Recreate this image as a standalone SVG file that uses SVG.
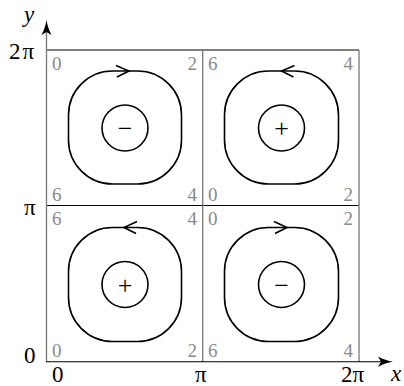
<svg xmlns="http://www.w3.org/2000/svg" width="404" height="386" viewBox="0 0 404 386">
<style>
.vl{stroke:#777;stroke-width:1.3;fill:none}
.hl{stroke:#000;stroke-width:1.1;fill:none}
.loop{stroke:#000;stroke-width:1.6;fill:none}
.chev{stroke:#000;stroke-width:1.6;fill:none;stroke-linejoin:miter}
.num{font-family:"Liberation Serif",serif;font-size:19px;fill:#8a8a8a}
.lab{font-family:"Liberation Serif",serif;font-size:23px;fill:#000}
.it{font-style:italic}
.sign{font-family:"Liberation Serif",serif;font-size:26px;fill:#000;text-anchor:middle}
</style>
<rect width="404" height="386" fill="#fff"/>
<g id="grid">
<line class="hl" x1="46.5" y1="50" x2="359" y2="50"/>
<line class="hl" x1="46.5" y1="205.5" x2="359" y2="205.5"/>
<line class="vl" x1="202.7" y1="50" x2="202.7" y2="362"/>
<line class="vl" x1="359" y1="50" x2="359" y2="362"/>
</g>
<g id="axes">
<line class="vl" x1="46.5" y1="362" x2="46.5" y2="30"/>
<path d="M46.5,20 C47.3,25 48.8,30 51.5,35 L46.5,32 L41.5,35 C44.2,30 45.7,25 46.5,20 Z" fill="#000"/>
<line class="hl" x1="46" y1="361.8" x2="384" y2="361.8"/>
<path d="M393,361.8 C388,362.6 383,364.2 378,367 L381,361.8 L378,356.6 C383,359.4 388,361 393,361.8 Z" fill="#000"/>
<text class="lab it" x="24" y="22" font-size="25">y</text>
<text class="lab" x="9" y="59">2<tspan dx="2">π</tspan></text>
<text class="lab" x="24" y="215">π</text>
<text class="lab" x="24" y="363">0</text>
<text class="lab" x="52" y="382">0</text>
<text class="lab" x="195" y="382">π</text>
<text class="lab" x="341" y="382">2π</text>
<text class="lab it" x="391" y="381">x</text>
</g>
<g id="cell-tl">
<rect class="loop" x="68.5" y="71" width="113" height="113" rx="44" ry="44"/>
<path class="chev" d="M116,65.5 L129,71 L117,77"/>
<circle class="loop" cx="125" cy="128" r="23"/>
<text class="sign" x="125" y="137">−</text>
<text class="num" x="52" y="70">0</text>
<text class="num" x="197" y="70" text-anchor="end">2</text>
<text class="num" x="52" y="201">6</text>
<text class="num" x="197" y="201" text-anchor="end">4</text>
</g>
<g id="cell-tr">
<rect class="loop" x="224.5" y="71" width="114" height="113" rx="44" ry="44"/>
<path class="chev" d="M294.5,65.5 L281.5,71 L293.5,77"/>
<circle class="loop" cx="281.5" cy="128" r="23"/>
<text class="sign" x="281.5" y="137">+</text>
<text class="num" x="208" y="70">6</text>
<text class="num" x="353" y="70" text-anchor="end">4</text>
<text class="num" x="208" y="201">0</text>
<text class="num" x="353" y="201" text-anchor="end">2</text>
</g>
<g id="cell-bl">
<rect class="loop" x="68.5" y="227.5" width="113" height="114" rx="44" ry="44"/>
<path class="chev" d="M137,221.5 L124,227.5 L136,233.5"/>
<circle class="loop" cx="125" cy="284.5" r="23"/>
<text class="sign" x="125" y="293.5">+</text>
<text class="num" x="52" y="225">6</text>
<text class="num" x="197" y="225" text-anchor="end">4</text>
<text class="num" x="52" y="357">0</text>
<text class="num" x="197" y="357" text-anchor="end">2</text>
</g>
<g id="cell-br">
<rect class="loop" x="224.5" y="227.5" width="114" height="114" rx="44" ry="44"/>
<path class="chev" d="M274,221.5 L287,227.5 L275,233.5"/>
<circle class="loop" cx="281.5" cy="284.5" r="23"/>
<text class="sign" x="281.5" y="293.5">−</text>
<text class="num" x="208" y="225">0</text>
<text class="num" x="353" y="225" text-anchor="end">2</text>
<text class="num" x="208" y="357">6</text>
<text class="num" x="353" y="357" text-anchor="end">4</text>
</g>
</svg>
